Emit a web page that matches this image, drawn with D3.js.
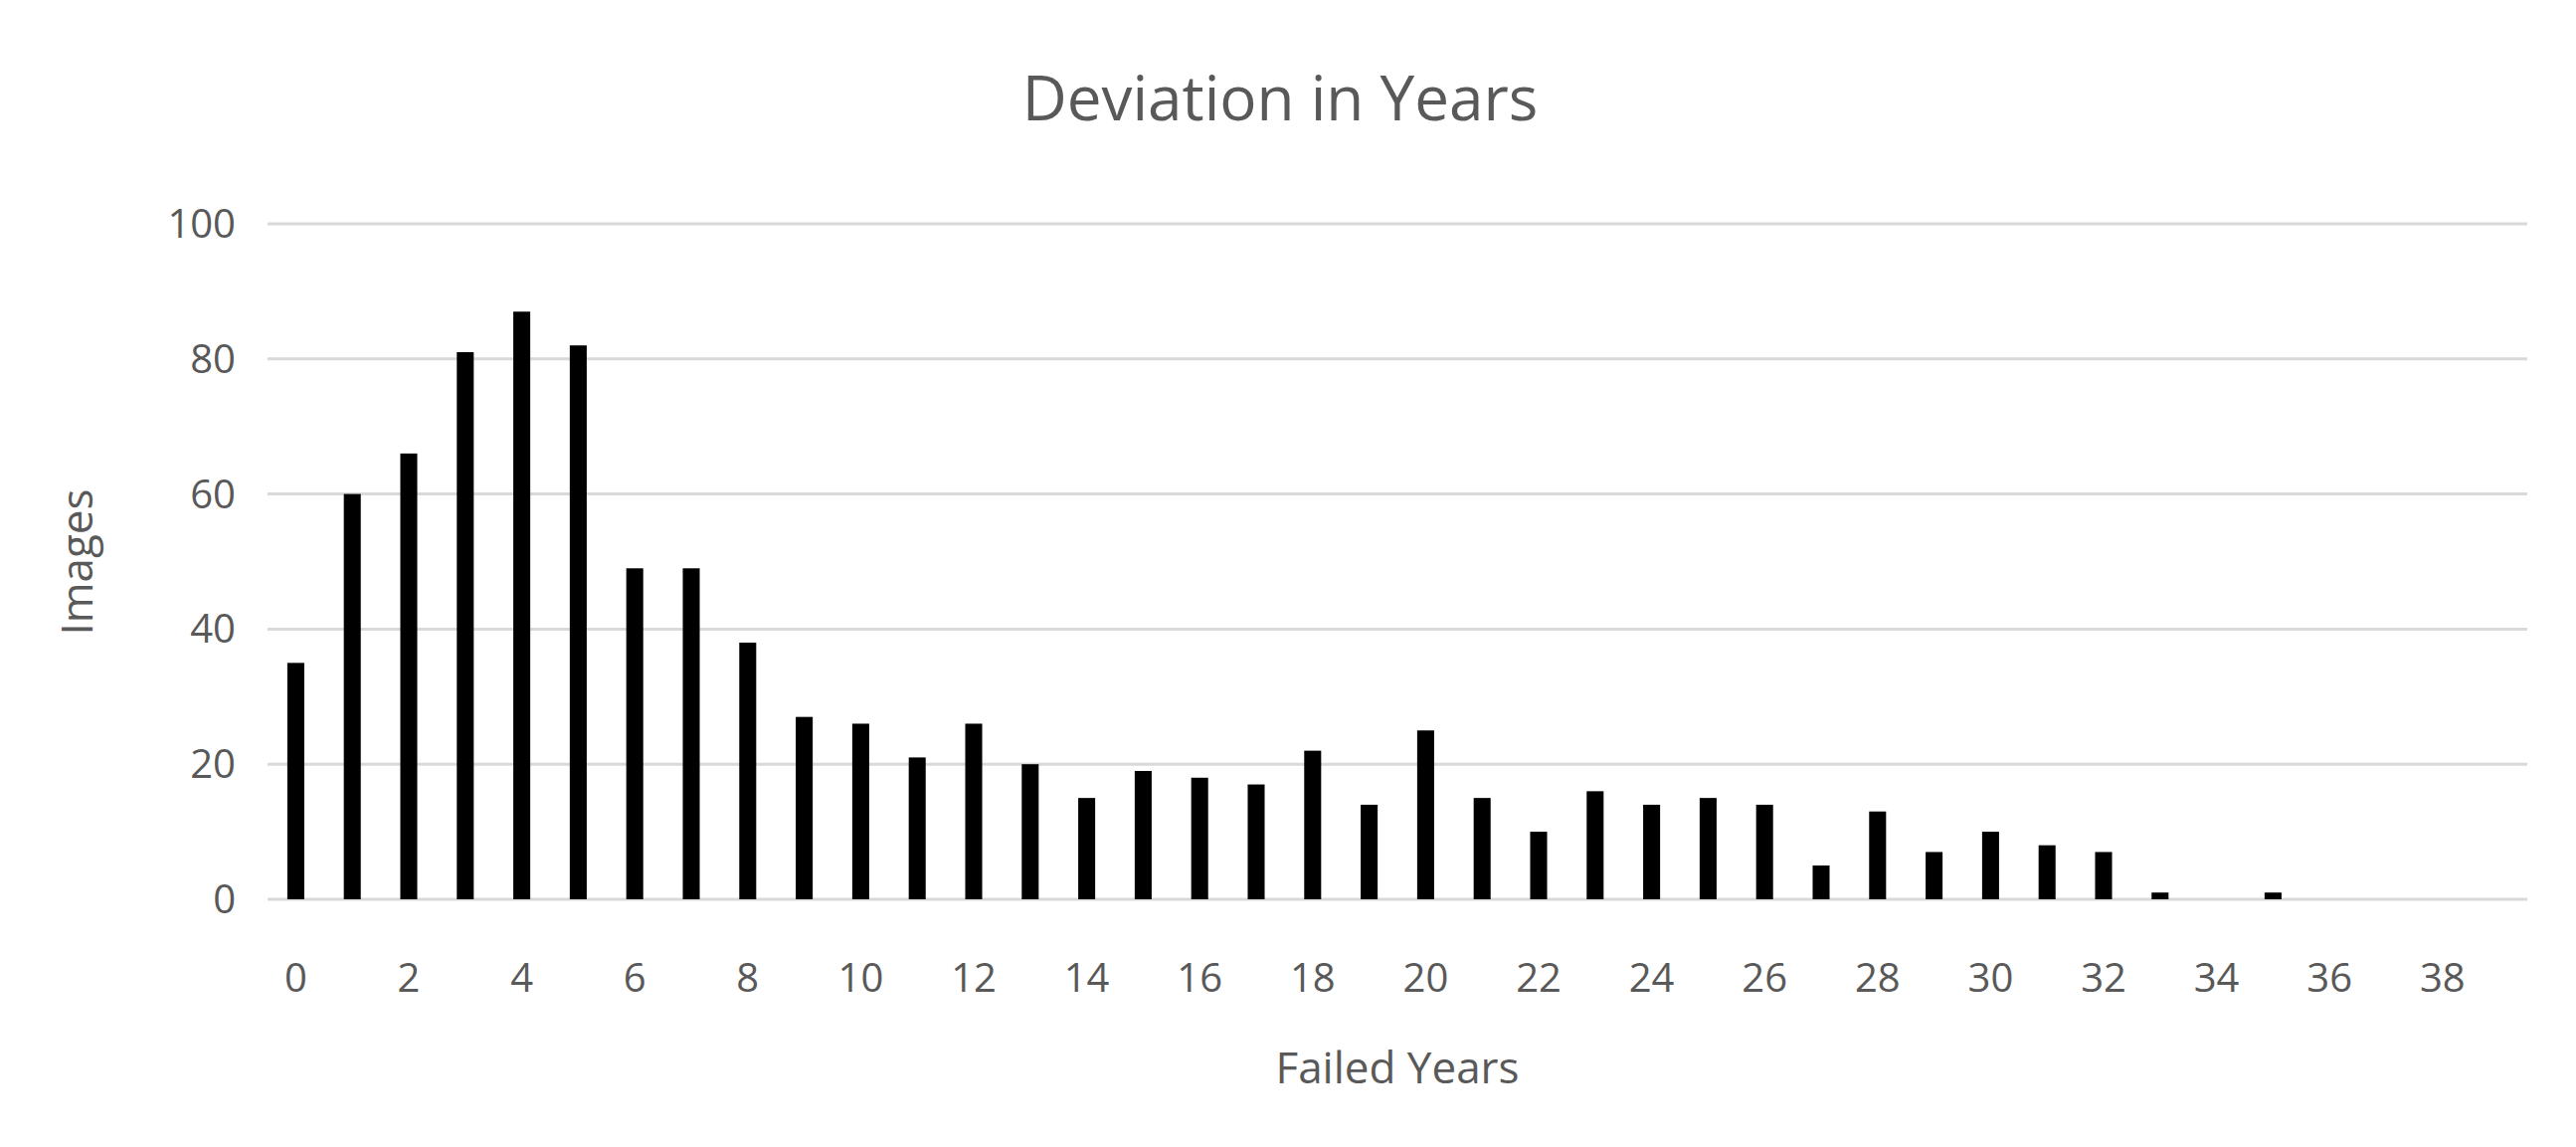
<!DOCTYPE html>
<html><head><meta charset="utf-8">
<script src="https://cdn.jsdelivr.net/npm/d3@7"></script>
<style>body{margin:0;background:#fff}</style>
</head><body>
<script>
let width = 2590, height = 1153;
let years = d3.range(0, 40);
let images = [35,60,66,81,87,82,49,49,38,27,26,21,26,20,15,19,18,17,22,14,25,15,10,16,14,15,14,5,13,7,10,8,7,1,0,1,0,0,0,0];
let yTicks = [0, 20, 40, 60, 80, 100];

let margin = {top: 225, right: 49, bottom: 249, left: 269};

let svg = d3.select('body').append('svg')
    .attr('width', width).attr('height', height);

let x = d3.scaleBand().domain(years).range([margin.left, width - margin.right]).paddingInner(0.7).paddingOuter(0.35);
let y = d3.scaleLinear().domain([0, 100]).range([height - margin.bottom, margin.top]);

// gridlines
svg.append('g').selectAll('line').data(yTicks).enter().append('line')
    .attr('x1', margin.left).attr('x2', width - margin.right)
    .attr('y1', d => y(d)).attr('y2', d => y(d))
    .attr('stroke', '#d9d9d9').attr('stroke-width', 3);

// bars
svg.append('g').selectAll('rect').data(images).enter().append('rect')
    .attr('x', (d, i) => x(years[i]))
    .attr('width', x.bandwidth())
    .attr('y', d => y(d))
    .attr('height', d => y(0) - y(d))
    .attr('fill', '#000');

let font = '"Open Sans", "Noto Sans", sans-serif';

// y axis labels
svg.append('g').selectAll('text').data(yTicks).enter().append('text')
    .attr('x', margin.left - 32).attr('y', d => y(d))
    .attr('dy', '0.35em').attr('text-anchor', 'end')
    .attr('font-family', font).attr('font-size', 40).attr('fill', '#595959')
    .text(d => d);

// x axis labels
svg.append('g').selectAll('text').data(years.filter(d => d % 2 === 0)).enter().append('text')
    .attr('x', d => x(d) + x.bandwidth() / 2).attr('y', 983)
    .attr('dy', '0.35em').attr('text-anchor', 'middle')
    .attr('font-family', font).attr('font-size', 40).attr('fill', '#595959')
    .text(d => d);

svg.append('text').attr('x', 1287).attr('y', 99).attr('dy', '0.35em')
    .attr('text-anchor', 'middle').attr('font-family', font).attr('font-size', 62).attr('fill', '#595959')
    .text('Deviation in Years');

svg.append('text').attr('x', 1405).attr('y', 1074).attr('dy', '0.35em')
    .attr('text-anchor', 'middle').attr('font-family', font).attr('font-size', 44).attr('fill', '#595959')
    .text('Failed Years');

svg.append('text').attr('transform', 'translate(78,565) rotate(-90)').attr('dy', '0.35em')
    .attr('text-anchor', 'middle').attr('font-family', font).attr('font-size', 44).attr('fill', '#595959')
    .text('Images');
</script>
</body></html>
